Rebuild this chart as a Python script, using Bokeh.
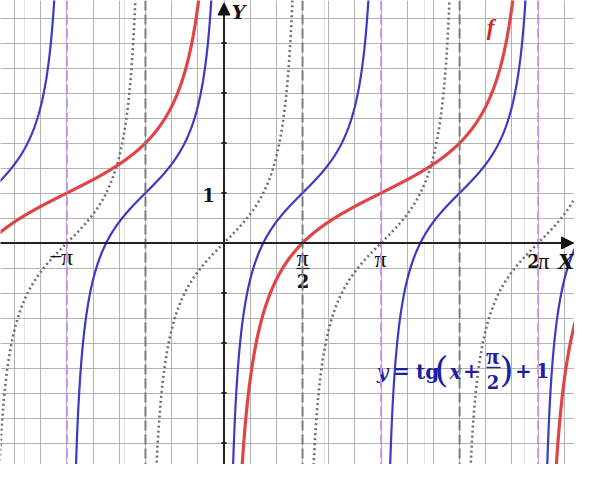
import numpy as np
from bokeh.plotting import figure
from bokeh.models import Grid, FixedTicker, Arrow, NormalHead, Span, ColumnDataSource
from bokeh.embed import file_html
from bokeh.resources import INLINE
from bokeh.core.properties import value

PI = np.pi

# ---- data -------------------------------------------------------------
x_view = [-4.47, 7.01]
y_view = [-4.43, 4.85]
x_grid_steps = [k * PI / 6 for k in range(-10, 16)]
y_grid_steps = [k * 0.5 for k in range(-12, 12)]
y_axis_ticks = [-4, -3, -2, -1, 1, 2, 3, 4]
gray_asymptotes = [-PI / 2, PI / 2, 3 * PI / 2]      # asymptotes of tg x
pink_asymptotes = [-PI, PI, 2 * PI]                   # asymptotes of tg(x + pi/2) + 1
shift_blue = PI / 2
lift_blue = 1.0
shift_red = -PI          # f(x) = tg((x - pi)/2) + 1
scale_red = 0.5
lift_red = 1.0

xs = np.linspace(-4.8, 7.4, 6000)


def clip(v):
    v = np.array(v, dtype=float)
    v[np.abs(v) > 30] = np.nan
    return v


y_dotted = clip(np.tan(xs))
y_blue = clip(np.tan(xs + shift_blue) + lift_blue)
y_red = clip(np.tan(scale_red * (xs + shift_red)) + lift_red)

src = ColumnDataSource(dict(x=xs, yd=y_dotted, yb=y_blue, yr=y_red))

p = figure(width=574, height=464, x_range=tuple(x_view), y_range=tuple(y_view),
           output_backend="svg", toolbar_location=None,
           x_axis_location=None, y_axis_location=None,
           min_border=0, outline_line_color=None, background_fill_color="white")

gx = Grid(dimension=0, ticker=FixedTicker(ticks=x_grid_steps),
          grid_line_color="#b2b2b2", grid_line_width=1)
gy = Grid(dimension=1, ticker=FixedTicker(ticks=y_grid_steps),
          grid_line_color="#b2b2b2", grid_line_width=1)
p.add_layout(gx)
p.add_layout(gy)

for a in gray_asymptotes:
    p.add_layout(Span(location=a, dimension="height", line_color="#7c7c7c",
                      line_width=2, line_dash="10 4"))
for a in pink_asymptotes:
    p.add_layout(Span(location=a, dimension="height", line_color="#c990e6",
                      line_width=2, line_dash="10 4"))

p.line("x", "yd", source=src, line_color="#6e6e6e", line_width=2.6, line_dash="2 3")
p.line("x", "yb", source=src, line_color="#3a3ac4", line_width=2.2)
p.line("x", "yr", source=src, line_color="#e04545", line_width=3.2)

# axes
p.add_layout(Arrow(end=NormalHead(size=12, fill_color="#111111", line_color="#111111"),
                   x_start=x_view[0] - 0.5, y_start=0, x_end=6.99, y_end=0,
                   line_color="#222222", line_width=2))
p.add_layout(Arrow(end=NormalHead(size=12, fill_color="#111111", line_color="#111111"),
                   x_start=0, y_start=y_view[0] - 0.5, x_end=0, y_end=4.8,
                   line_color="#222222", line_width=2))
p.segment(x0=[-0.05] * len(y_axis_ticks), y0=y_axis_ticks,
          x1=[0.05] * len(y_axis_ticks), y1=y_axis_ticks,
          line_color="#222222", line_width=2)

serif = value("DejaVu Serif")
times = value("Liberation Serif")


def txt(x, y, s, size="16px", style="normal", color="#111111", font=serif):
    p.text(x=[x], y=[y], text=[s], text_font=font, text_font_size=size,
           text_font_style=style, text_color=color, text_align="center",
           text_baseline="middle")


# tick labels
txt(-3.37, -0.26, "\u2212", size="17px")
txt(-3.14, -0.27, "\u03c0", size="24px", font=times)
txt(1.57, -0.30, "\u03c0", size="24px", font=times)
p.segment(x0=[1.45], y0=[-0.51], x1=[1.71], y1=[-0.51], line_color="#222222", line_width=1.3)
txt(1.58, -0.76, "2", size="18px", style="bold")
txt(3.13, -0.31, "\u03c0", size="24px", font=times)
txt(6.19, -0.35, "2", size="18px", style="bold")
txt(6.39, -0.36, "\u03c0", size="24px", font=times)
txt(-0.31, 0.97, "1", size="18px", style="bold")
txt(0.29, 4.62, "Y", size="19px", style="bold italic")
txt(6.84, -0.37, "X", size="20px", style="bold italic")
txt(5.33, 4.31, "f", size="23px", style="bold italic", color="#d02828", font=times)

# formula y = tg(x + pi/2) + 1
fc = "#1e1ea0"
txt(3.17, -2.57, "y", size="20px", style="bold italic", color=fc)
txt(3.55, -2.55, "=", size="20px", style="bold", color=fc)
txt(4.07, -2.57, "tg", size="20px", style="bold", color=fc)
txt(4.35, -2.53, "(", size="36px", style="normal", color=fc)
txt(4.63, -2.57, "x", size="20px", style="bold italic", color=fc)
txt(4.95, -2.55, "+", size="20px", style="bold", color=fc)
txt(5.37, -2.25, "\u03c0", size="24px", style="bold", color=fc, font=times)
p.segment(x0=[5.25], y0=[-2.49], x1=[5.53], y1=[-2.49], line_color=fc, line_width=1.4)
txt(5.38, -2.77, "2", size="18px", style="bold", color=fc)
txt(5.65, -2.53, ")", size="36px", style="normal", color=fc)
txt(5.99, -2.55, "+", size="20px", style="bold", color=fc)
txt(6.37, -2.55, "1", size="20px", style="bold", color=fc)

open("out.html", "w").write(file_html(p, INLINE))
